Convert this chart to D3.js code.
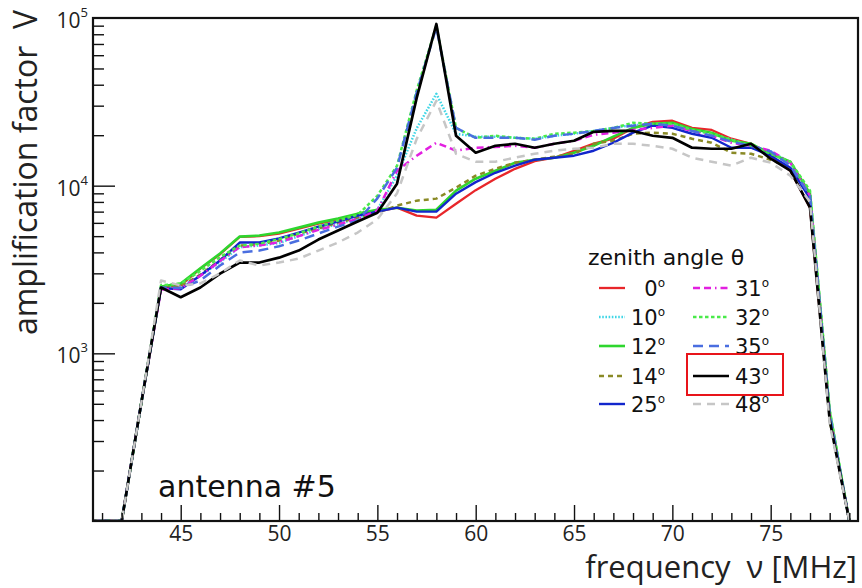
<!DOCTYPE html>
<html>
<head>
<meta charset="utf-8">
<script src="https://cdn.jsdelivr.net/npm/d3@7"></script>
<style>
  body { margin: 0; background: #fff; }
  svg { display: block; }
</style>
</head>
<body>
<div id="chart"></div>
<script>
// frequency in MHz
var freq = [40, 41, 42, 43, 44, 45, 46, 47, 48, 49, 50, 51, 52, 53, 54, 55, 56, 57, 58, 59,
            60, 61, 62, 63, 64, 65, 66, 67, 68, 69, 70, 71, 72, 73, 74, 75, 76, 77, 78, 79];

// amplification factor V for each zenith angle
var amp0  = [50, 60, 95, 510, 2470, 2540, 3200, 3900, 4950, 5000, 5180, 5550, 5940, 6280, 6720, 7000, 7390, 6630, 6450, 7800,
             9400, 11000, 12600, 14000, 14680, 16160, 17800, 19050, 22100, 24000, 24400, 22100, 21500, 19050, 17780, 15090, 12280, 7390, 420, 70];
var amp10 = [50, 60, 95, 510, 2470, 2500, 2900, 3500, 4300, 4400, 4550, 5000, 5500, 5900, 6400, 7200, 11500, 22000, 35300, 20400,
             19600, 19600, 19300, 19050, 19850, 20400, 21200, 22100, 23000, 23000, 23400, 21500, 20400, 18800, 17300, 16000, 13700, 8700, 430, 75];
var amp12 = [50, 60, 95, 510, 2500, 2610, 3220, 3940, 4970, 5040, 5250, 5620, 6020, 6370, 6810, 7190, 7390, 7100, 7190, 9340,
             11000, 12280, 13700, 14280, 14680, 15720, 17300, 19600, 22100, 23400, 23700, 21800, 20700, 18530, 17780, 15500, 13900, 8960, 450, 75];
var amp14 = [50, 60, 95, 510, 2470, 2500, 2950, 3600, 4390, 4460, 4710, 5180, 5550, 6020, 6450, 6900, 7600, 8140, 8370, 9730,
             11470, 12620, 13700, 14280, 14900, 15500, 17780, 18530, 20400, 20700, 20400, 19050, 18030, 15720, 15500, 14280, 12800, 8500, 400, 70];
var amp25 = [50, 60, 95, 510, 2450, 2410, 2910, 3580, 4580, 4580, 4850, 5250, 5700, 6110, 6630, 7000, 7390, 7000, 7000, 8960,
             10500, 11940, 13150, 14280, 14680, 15090, 16160, 18030, 20700, 22800, 22100, 20400, 19300, 16840, 16840, 15090, 12800, 8370, 420, 70];
var amp31 = [50, 60, 95, 510, 2400, 2450, 2900, 3550, 4300, 4400, 4600, 5000, 5450, 5850, 6350, 7100, 12280, 15090, 18030, 16160,
             16840, 17000, 17300, 16840, 17780, 18530, 20100, 20700, 21500, 22100, 22800, 21200, 19850, 18030, 17300, 16160, 13710, 8700, 430, 75];
var amp32 = [50, 60, 95, 510, 2550, 2600, 3100, 3750, 4390, 4500, 4800, 5200, 5700, 6200, 6700, 8700, 13150, 37000, 90000, 22100,
             19300, 19850, 19300, 19050, 20400, 20700, 21200, 22100, 23700, 23400, 23400, 21500, 20400, 18800, 17300, 15500, 13900, 9340, 460, 75];
var amp35 = [50, 60, 95, 510, 2470, 2450, 2720, 3340, 3990, 4100, 4350, 4710, 5180, 5700, 6190, 8400, 12800, 36000, 88000, 22100,
             19300, 19300, 19300, 18800, 19850, 20400, 21200, 22100, 22800, 23400, 22800, 21200, 19850, 18300, 17300, 16000, 13150, 8700, 440, 75];
var amp43 = [50, 60, 95, 510, 2470, 2160, 2470, 2990, 3480, 3480, 3720, 4100, 4770, 5400, 6110, 6900, 10280, 33400, 92100, 19850,
             15720, 17300, 17780, 16840, 17780, 18530, 20950, 21200, 21200, 19850, 19300, 16840, 16600, 16600, 17780, 14480, 12280, 7390, 400, 70];
var amp48 = [50, 60, 95, 510, 2720, 2540, 2610, 3000, 3580, 3340, 3480, 3670, 4100, 4580, 5250, 6300, 9000, 19000, 32100, 15500,
             13900, 13900, 14680, 15500, 16160, 16600, 16840, 17780, 17780, 17300, 16600, 14680, 13900, 13150, 14680, 13710, 11470, 8000, 380, 65];

var angles = ["0", "10", "12", "14", "25", "31", "32", "35", "43", "48"];
var seriesValues = [amp0, amp10, amp12, amp14, amp25, amp31, amp32, amp35, amp43, amp48];

var xMajor = [45, 50, 55, 60, 65, 70, 75];
var yDecades = [1000, 10000, 100000];
var yExp = ["3", "4", "5"];

// styles
var colors = ["#e8262a", "#3fd6e6", "#2ed62e", "#8a8a26", "#1226cc", "#e21fe0", "#4aea4a", "#4a6ee0", "#000000", "#c6c6c6"];
var dashes = [null, "1.6,1.6", null, "5,4", null, "7,4,7,4,1.5,4", "3.5,2.5", "10,6", null, "8,6"];
var widths = [2.3, 2.5, 2.6, 2.5, 2.4, 2.5, 2.5, 2.5, 2.7, 2.5];

var width = 862, height = 588;
var frame = { left: 93, right: 858, top: 18, bottom: 521 };

var svg = d3.select("#chart").append("svg")
  .attr("width", width)
  .attr("height", height);

var x = d3.scaleLinear()
  .domain([40.54, 79.44])
  .range([frame.left, frame.right]);

var y = d3.scaleLog()
  .domain([100, 100000])
  .range([frame.bottom, frame.top])
  .clamp(true);

svg.append("defs").append("clipPath")
  .attr("id", "plotclip")
  .append("rect")
  .attr("x", frame.left)
  .attr("y", frame.top)
  .attr("width", frame.right - frame.left)
  .attr("height", frame.bottom - frame.top);

// curves
var line = d3.line()
  .x(function(d) { return x(d[0]); })
  .y(function(d) { return y(d[1]); });

var curves = svg.append("g").attr("clip-path", "url(#plotclip)");
seriesValues.forEach(function(vals, i) {
  var pts = freq.map(function(f, j) { return [f, vals[j]]; });
  curves.append("path")
    .datum(pts)
    .attr("d", line)
    .attr("fill", "none")
    .attr("stroke", colors[i])
    .attr("stroke-width", widths[i])
    .attr("stroke-dasharray", dashes[i])
    .attr("stroke-linejoin", "round");
});

// x axis ticks (inside)
var xMinor = d3.range(41, 80).filter(function(f) { return xMajor.indexOf(f) < 0; });
svg.append("g")
  .attr("transform", "translate(0," + frame.bottom + ")")
  .call(d3.axisBottom(x).tickValues(xMinor).tickSize(-8).tickFormat(""))
  .call(function(g) { g.select(".domain").remove(); });

var xAxis = svg.append("g")
  .attr("transform", "translate(0," + frame.bottom + ")")
  .call(d3.axisBottom(x).tickValues(xMajor).tickSizeInner(-16).tickPadding(5).tickFormat(d3.format("d")));
xAxis.select(".domain").remove();
xAxis.selectAll("text")
  .attr("font-family", "'Open Sans', sans-serif")
  .attr("font-size", 21)
  .attr("fill", "#222");

// y axis ticks (inside)
var yMinor = [];
[100, 1000, 10000].forEach(function(dec) {
  for (var k = 2; k <= 9; k++) yMinor.push(dec * k);
});
var yMinorG = svg.append("g")
  .attr("transform", "translate(" + frame.left + ",0)")
  .call(d3.axisLeft(y).tickValues(yMinor).tickSize(-11).tickFormat(""));
yMinorG.select(".domain").remove();

var yMajorG = svg.append("g")
  .attr("transform", "translate(" + frame.left + ",0)")
  .call(d3.axisLeft(y).tickValues(yDecades.slice(0, 2)).tickSize(-22).tickFormat(""));
yMajorG.select(".domain").remove();
svg.selectAll(".tick line").attr("stroke", "#111").attr("stroke-width", 1.4);

// y tick labels 10^n
yDecades.forEach(function(v, i) {
  var t = svg.append("text")
    .attr("x", 88)
    .attr("y", y(v) + 10)
    .attr("text-anchor", "end")
    .attr("font-family", "'Open Sans', sans-serif")
    .attr("font-size", 21)
    .attr("fill", "#222");
  t.append("tspan").text("10");
  t.append("tspan")
    .attr("font-size", 13)
    .attr("dy", -11)
    .text(yExp[i]);
});

// frame
svg.append("rect")
  .attr("x", frame.left)
  .attr("y", frame.top)
  .attr("width", frame.right - frame.left)
  .attr("height", frame.bottom - frame.top)
  .attr("fill", "none")
  .attr("stroke", "#111")
  .attr("stroke-width", 2.2);

// axis titles
svg.append("text")
  .attr("transform", "translate(37,10) rotate(-90)")
  .attr("text-anchor", "end")
  .attr("font-family", "'Open Sans', sans-serif")
  .attr("font-size", 32)
  .attr("fill", "#222")
  .style("white-space", "pre")
  .text("amplification factor  V");

svg.append("text")
  .attr("x", 857)
  .attr("y", 578)
  .attr("text-anchor", "end")
  .attr("font-family", "'Open Sans', sans-serif")
  .attr("font-size", 31)
  .attr("fill", "#222")
  .style("white-space", "pre")
  .text("frequency  \u03bd [MHz]");

svg.append("text")
  .attr("x", 158)
  .attr("y", 497)
  .attr("font-family", "'DejaVu Sans', sans-serif")
  .attr("font-size", 30)
  .attr("fill", "#111")
  .text("antenna #5");

// legend
var legend = svg.append("g")
  .attr("font-family", "'DejaVu Sans', sans-serif")
  .attr("fill", "#111");

legend.append("text")
  .attr("x", 588)
  .attr("y", 265)
  .attr("font-size", 22)
  .text("zenith angle \u03b8");

var rowY = [288, 317, 346, 376, 404];
angles.forEach(function(a, i) {
  var col = i < 5 ? 0 : 1;
  var ry = rowY[i % 5];
  var x0 = col === 0 ? 599 : 693;
  var x1 = col === 0 ? 625 : 729;
  legend.append("line")
    .attr("x1", x0).attr("x2", x1)
    .attr("y1", ry).attr("y2", ry)
    .attr("stroke", colors[i])
    .attr("stroke-width", widths[i])
    .attr("stroke-dasharray", dashes[i]);
  var t = legend.append("text")
    .attr("x", col === 0 ? 665 : 735)
    .attr("y", ry + 8)
    .attr("text-anchor", col === 0 ? "end" : "start")
    .attr("font-size", 21);
  t.append("tspan").text(a);
  t.append("tspan")
    .attr("font-size", 12)
    .attr("dy", -9)
    .text("o");
});

// highlight box around 43
svg.append("rect")
  .attr("x", 687)
  .attr("y", 354)
  .attr("width", 96)
  .attr("height", 41)
  .attr("fill", "none")
  .attr("stroke", "#e8141a")
  .attr("stroke-width", 2);
</script>
</body>
</html>
